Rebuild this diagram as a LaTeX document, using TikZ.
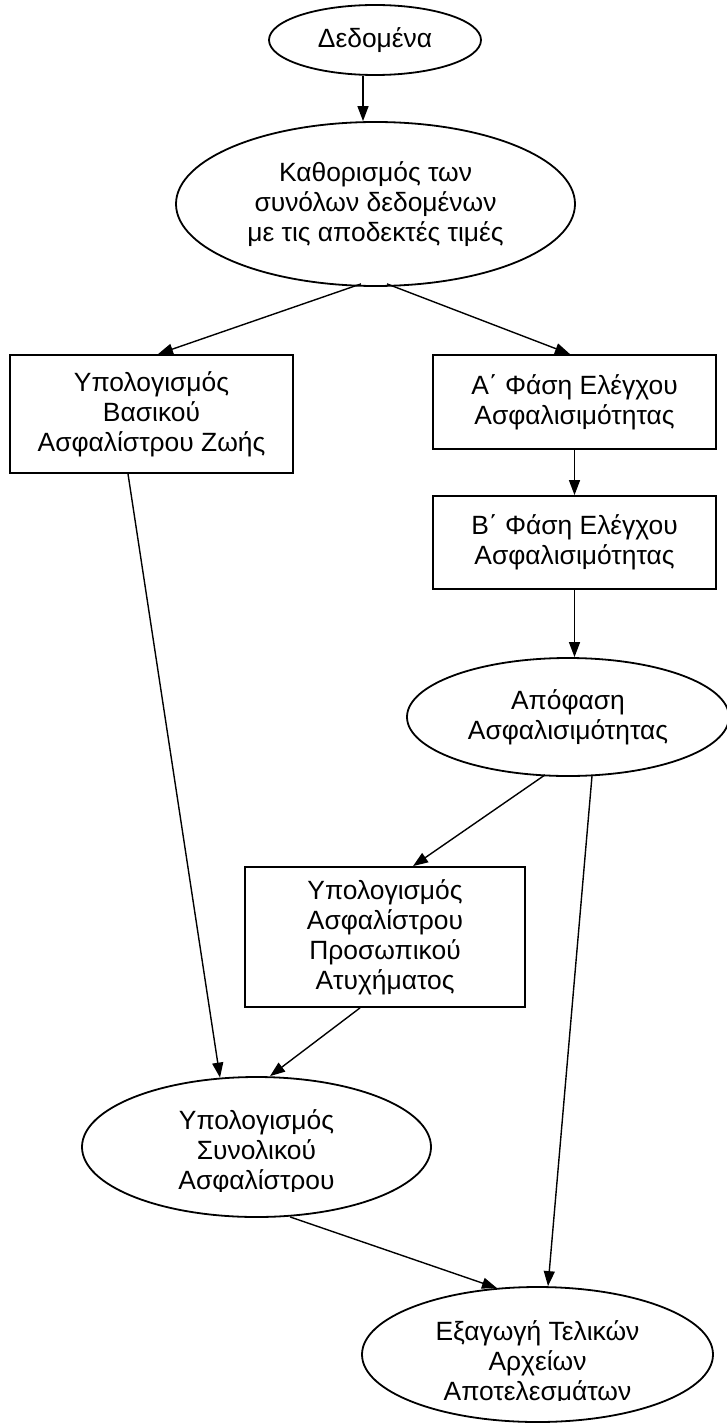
\documentclass[tikz,border=0pt]{standalone}
\usepackage{fontspec}
\setmainfont{Liberation Sans}
\usetikzlibrary{shapes.geometric,arrows.meta,calc}

\tikzset{
  txtfont/.style={font=\fontsize{13.2pt}{15pt}\selectfont},
  ell/.style={ellipse, draw, line width=0.9pt, inner sep=0pt, align=center, txtfont},
  box/.style={rectangle, draw, line width=0.9pt, inner sep=0pt, align=center, txtfont},
  txt/.style={inner sep=0pt, align=center, txtfont},
  arr/.style={line width=0.7pt, -{Triangle[length=7.5pt,width=5.5pt]}}
}

\begin{document}
\begin{tikzpicture}[x=0.5pt,y=-0.5pt]
\useasboundingbox (0,0) rectangle (727,1423);

% ellipses and boxes (sizes in pt, positions in the 727 x 1423 grid)
\node[ell, minimum width=106pt, minimum height=35pt] (dat) at (375,40) {Δεδομένα};
\node[ell, minimum width=199.5pt, minimum height=82pt] (def) at (375.5,204)
  {Καθορισμός των\\συνόλων δεδομένων\\με τις αποδεκτές τιμές};
\node[box, minimum width=141.5pt, minimum height=59pt] (base) at (151.5,414)
  {Υπολογισμός\\Βασικού\\Ασφαλίστρου Ζωής};
\node[box, minimum width=141.5pt, minimum height=47pt] (pha) at (574.5,402)
  {Α΄ Φάση Ελέγχου\\Ασφαλισιμότητας};
\node[box, minimum width=141.5pt, minimum height=46.5pt] (phb) at (574.5,542.5)
  {Β΄ Φάση Ελέγχου\\Ασφαλισιμότητας};
\node[ell, minimum width=161pt, minimum height=59pt] (dec) at (568,717)
  {Απόφαση\\Ασφαλισιμότητας};
\node[box, minimum width=140pt, minimum height=70pt] (acc) at (385,937)
  {Υπολογισμός\\Ασφαλίστρου\\Προσωπικού\\Ατυχήματος};
\node[ell, minimum width=174.5pt, minimum height=70pt] (tot) at (256.5,1147) {};
\node[ell, minimum width=175.5pt, minimum height=67.5pt] (out) at (537.5,1354.5) {};

% the last line of these two labels is cut off at the bottom of its text frame
\begin{scope}
  \clip (0,0) rectangle (727,1191);
  \node[txt] (totlabel) at (256.5,1152) {Υπολογισμός\\Συνολικού\\Ασφαλίστρου};
\end{scope}
\begin{scope}
  \clip (0,1300) rectangle (727,1400);
  \node[txt] (outlabel) at (537.5,1363) {Εξαγωγή Τελικών\\Αρχείων\\Αποτελεσμάτων};
\end{scope}

% connectors
\draw[arr] ($(dat.south)+(-12,0)$) -- ($(def.north)+(-12.5,0)$);
\draw[arr] ($(def.south)+(-14.5,-3)$) -- ($(base.north)+(6.5,0)$);
\draw[arr] ($(def.south)+(11.5,-3)$) -- ($(pha.north)+(-4.5,0)$);
\draw[arr] (pha.south) -- (phb.north);
\draw[arr] (phb.south) -- (phb.south |- dec.north);
\draw[arr] ($(dec.south)+(-23,-2)$) -- ($(acc.north)+(28,0)$);
\draw[arr] ($(dec.south)+(24,-1)$) -- ($(out.north)+(10.5,0)$);
\draw[arr] ($(base.south)+(-23.5,0)$) -- ($(tot.north)+(-36.5,1.5)$);
\draw[arr] ($(acc.south)+(-25,0)$) -- ($(tot.north)+(13.5,0)$);
\draw[arr] ($(tot.south)+(33.5,-1)$) -- ($(out.north)+(-40.5,2)$);
\end{tikzpicture}
\end{document}
